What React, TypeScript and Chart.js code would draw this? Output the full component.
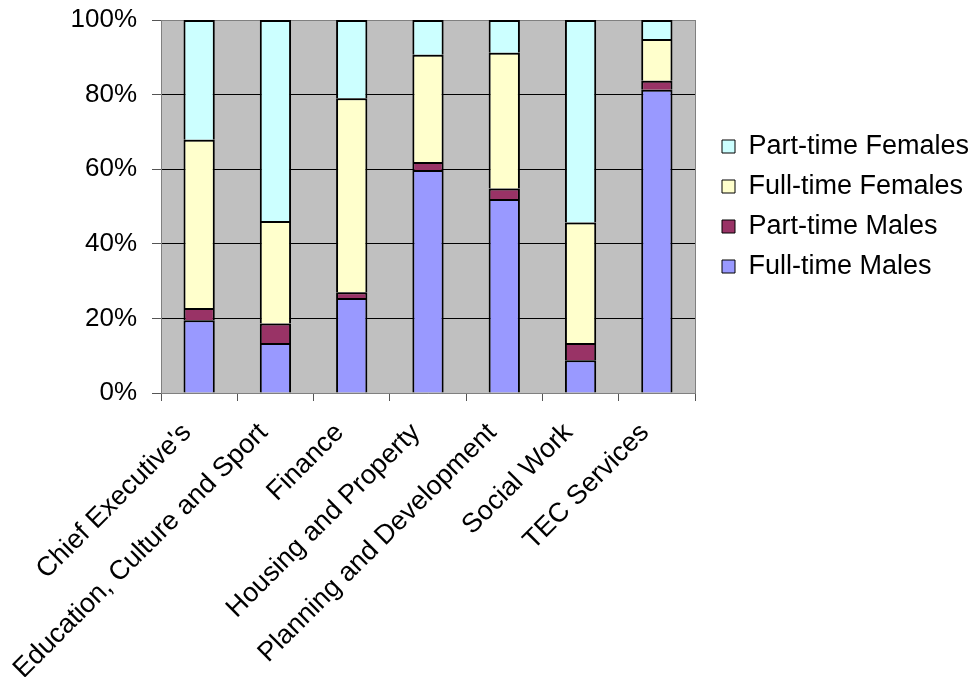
import React, { useEffect, useRef } from "react";
import { Chart, registerables } from "chart.js";

Chart.register(...registerables);

// Staff composition by department (percent of headcount)
const departments = [
  "Chief Executive's",
  "Education, Culture and Sport",
  "Finance",
  "Housing and Property",
  "Planning and Development",
  "Social Work",
  "TEC Services",
];
const fullTimeMales = [19.5, 13.4, 25.5, 59.8, 52.0, 8.8, 81.3];
const partTimeMales = [3.3, 5.2, 1.5, 2.1, 2.8, 4.6, 2.4];
const fullTimeFemales = [45.1, 27.5, 52.0, 28.8, 36.4, 32.3, 11.2];
const partTimeFemales = [32.1, 53.9, 21.0, 9.3, 8.8, 54.3, 5.1];
const percentTicks = [0, 20, 40, 60, 80, 100];

const FONT = '"Liberation Sans", Arial, Helvetica, sans-serif';
const AXIS_GREY = "#808080";

// Grey plot background behind the bars
const plotBackground = {
  id: "plotBackground",
  beforeDraw(chart: any) {
    const { ctx, chartArea } = chart;
    ctx.save();
    ctx.fillStyle = "#C0C0C0";
    ctx.fillRect(
      chartArea.left,
      chartArea.top,
      chartArea.right - chartArea.left,
      chartArea.bottom - chartArea.top
    );
    ctx.restore();
  },
};

export default function App() {
  const canvasRef = useRef<HTMLCanvasElement | null>(null);

  useEffect(() => {
    if (!canvasRef.current) return;
    Chart.defaults.font.family = FONT;
    const common = {
      borderColor: "#000000",
      borderWidth: 2,
      barPercentage: 0.41,
      categoryPercentage: 1,
    };
    const chart = new Chart(canvasRef.current, {
      type: "bar",
      data: {
        labels: departments,
        datasets: [
          { label: "Full-time Males", data: fullTimeMales, backgroundColor: "#9999FF", ...common },
          { label: "Part-time Males", data: partTimeMales, backgroundColor: "#993366", ...common },
          { label: "Full-time Females", data: fullTimeFemales, backgroundColor: "#FFFFCC", ...common },
          { label: "Part-time Females", data: partTimeFemales, backgroundColor: "#CCFFFF", ...common },
        ],
      },
      options: {
        animation: false,
        responsive: false,
        layout: { padding: { top: 20, right: 0, bottom: 0, left: 0 } },
        plugins: {
          tooltip: { enabled: false },
          legend: {
            position: "right",
            fullSize: false,
            align: "center",
            reverse: true,
            maxWidth: 265,
            labels: {
              color: "#000000",
              font: { size: 27, family: FONT },
              boxWidth: 13,
              boxHeight: 13,
              padding: 13,
              generateLabels(ch: any) {
                const items = Chart.defaults.plugins.legend.labels.generateLabels(ch);
                return items.map((it: any) => ({ ...it, lineWidth: 1, strokeStyle: "#000000" }));
              },
            },
          },
        },
        scales: {
          x: {
            stacked: true,
            afterFit(s: any) {
              s.height = 284;
              s.paddingLeft = 0;
              s.paddingRight = 0;
            },
            grid: {
              offset: true,
              drawOnChartArea: false,
              drawTicks: true,
              tickLength: 8,
              tickColor: "#555555",
            },
            border: { display: true, color: AXIS_GREY, width: 1 },
            ticks: {
              autoSkip: false,
              maxRotation: 45,
              minRotation: 45,
              color: "#000000",
              font: { size: 27, family: FONT },
              padding: 16,
              labelOffset: -12,
            },
          },
          y: {
            stacked: true,
            min: 0,
            max: 100,
            afterFit(s: any) {
              s.width = 161;
              s.paddingTop = 0;
              s.paddingBottom = 0;
            },
            afterBuildTicks(s: any) {
              s.ticks = percentTicks.map((v) => ({ value: v }));
            },
            grid: {
              drawOnChartArea: true,
              drawTicks: true,
              tickLength: 9,
              tickColor: "#555555",
              color: (c: any) =>
                c.tick && (c.tick.value === 0 || c.tick.value === 100) ? AXIS_GREY : "#000000",
            },
            border: { display: true, color: AXIS_GREY, width: 1 },
            ticks: {
              color: "#000000",
              font: { size: 26, family: FONT },
              padding: 15,
              callback: (v: any) => `${v}%`,
            },
          },
          frame: {
            type: "linear",
            position: "right",
            min: 0,
            max: 100,
            afterFit(s: any) {
              s.width = 14;
              s.paddingTop = 0;
              s.paddingBottom = 0;
            },
            grid: { drawOnChartArea: false, drawTicks: false, tickLength: 0 },
            border: { display: true, color: AXIS_GREY, width: 1 },
            ticks: { display: false },
          },
        },
      },
      plugins: [plotBackground],
    } as any);
    return () => chart.destroy();
  }, []);

  return (
    <div style={{ position: "absolute", left: 0, top: 0, width: 974, height: 677, background: "#ffffff" }}>
      <canvas ref={canvasRef} width={974} height={677} style={{ display: "block" }} />
    </div>
  );
}
